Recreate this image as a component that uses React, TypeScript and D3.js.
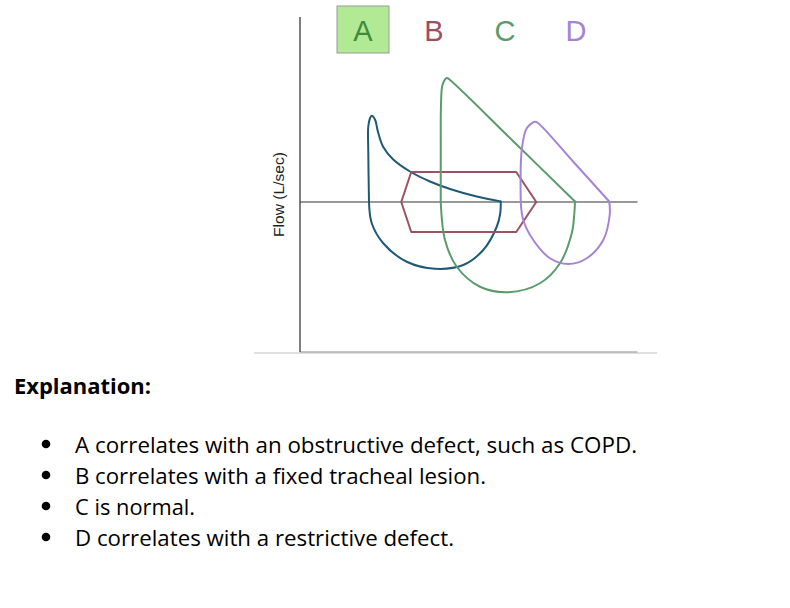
import React from "react";
import * as d3 from "d3";

// flow-volume loops (volume, flow in arbitrary units)
// each loop = expiratory limb (above zero) + inspiratory limb (below zero)
const loopNames = ["A", "B", "C", "D"];
const loopColors = ["#1f5a74", "#9a5264", "#5b9b6b", "#a584d6"];
const letterColors = ["#3d8c3d", "#9a4f62", "#5b9b6b", "#a584d6"];

const volumeAUp = [2.76, 2.73, 2.73, 2.8, 2.87, 3.0, 3.12, 3.33, 3.73, 4.4, 5.2, 6.0, 7.07, 8.03];
const flowAUp = [0, 2.08, 3.01, 3.35, 3.45, 3.3, 2.8, 2.2, 1.7, 1.22, 0.82, 0.52, 0.22, 0.02];
const volumeADown = [8.03, 8.01, 7.87, 7.33, 6.53, 5.4, 4.27, 3.33, 2.87, 2.76];
const flowADown = [0.02, -0.45, -0.99, -1.92, -2.52, -2.67, -2.39, -1.65, -0.85, 0];

const volumeB = [4.05, 4.45, 8.65, 9.45, 8.65, 4.45];
const flowB = [0, 1.2, 1.2, 0, -1.2, -1.2];

const volumeCUp = [5.63, 5.63, 5.64, 5.7, 5.87, 6.0, 8.5, 11.0];
const flowCUp = [0, 2.08, 3.88, 4.68, 4.96, 4.88, 2.46, 0.02];
const volumeCDown = [11.0, 10.97, 10.87, 10.4, 9.6, 8.33, 7.2, 6.27, 5.8, 5.63];
const flowCDown = [0.02, -0.5, -1.25, -2.45, -3.25, -3.61, -3.39, -2.59, -1.52, 0];

const volumeDUp = [8.83, 8.87, 9.07, 9.4, 9.53, 10.95, 12.37];
const flowDUp = [0, 2.08, 2.95, 3.21, 3.15, 1.59, 0.02];
const volumeDDown = [12.37, 12.39, 12.13, 11.47, 10.73, 10.0, 9.33, 8.93, 8.83];
const flowDDown = [0.02, -0.5, -1.52, -2.25, -2.48, -2.25, -1.52, -0.72, 0];

const explanationTitle = "Explanation:";
const explanationItems = [
  "A correlates with an obstructive defect, such as COPD.",
  "B correlates with a fixed tracheal lesion.",
  "C is normal.",
  "D correlates with a restrictive defect.",
];
const itemWidths = [562, 411, 120, 379];

export default function App() {
  const x = d3.scaleLinear().domain([0, 13.5]).range([300, 637.5]);
  const y = d3.scaleLinear().domain([-6, 7.4]).range([352, 17]);
  const letterX = d3.scalePoint<string>().domain(loopNames).range([363, 576]);

  const smooth = d3
    .line<[number, number]>()
    .x((d) => x(d[0]))
    .y((d) => y(d[1]))
    .curve(d3.curveCatmullRom.alpha(0.5));
  const straight = d3
    .line<[number, number]>()
    .x((d) => x(d[0]))
    .y((d) => y(d[1]))
    .curve(d3.curveLinearClosed);

  const zip = (a: number[], b: number[]) => a.map((v, i) => [v, b[i]] as [number, number]);
  const loops = [
    [smooth(zip(volumeAUp, flowAUp)), smooth(zip(volumeADown, flowADown))],
    [straight(zip(volumeB, flowB))],
    [smooth(zip(volumeCUp, flowCUp)), smooth(zip(volumeCDown, flowCDown))],
    [smooth(zip(volumeDUp, flowDUp)), smooth(zip(volumeDDown, flowDDown))],
  ];

  const lineY = d3.scaleLinear().domain([0, 3]).range([452.5, 545.5]);

  return (
    <svg width={790} height={608} style={{ position: "absolute", left: 0, top: 0, background: "#fff" }}>
      {/* axes */}
      <line x1={x(-1.84)} x2={x(14.28)} y1={y(-6) + 1} y2={y(-6) + 1} stroke="#d4d4d4" strokeWidth={1.5} />
      <line x1={x(0)} x2={x(13.5)} y1={y(-6)} y2={y(-6)} stroke="#b0b0b0" strokeWidth={1.5} />
      <line x1={x(0)} x2={x(0)} y1={y(7.4)} y2={y(-6)} stroke="#555" strokeWidth={1.5} />
      <line x1={x(0)} x2={x(13.5)} y1={y(0)} y2={y(0)} stroke="#333" strokeWidth={1.2} />
      <text
        transform={`translate(284, ${y(0.3)}) rotate(-90)`}
        textAnchor="middle"
        fontFamily="Liberation Sans, Arial, sans-serif"
        fontSize={14}
        fill="#222"
        textLength={85}
        lengthAdjust="spacingAndGlyphs"
      >
        Flow (L/sec)
      </text>

      {/* legend letters */}
      <rect x={337} y={6} width={52} height={47} fill="#b2e994" stroke="#9a9a9a" strokeWidth={1} />
      {loopNames.map((n, i) => (
        <text
          key={n}
          x={letterX(n)}
          y={40.5}
          textAnchor="middle"
          fontFamily="Liberation Sans, Arial, sans-serif"
          fontSize={29}
          fill={letterColors[i]}
        >
          {n}
        </text>
      ))}

      {/* loops */}
      {loops.map((parts, i) => (
        <g key={loopNames[i]}>
          {parts.map((d, j) => (
            <path key={j} d={d || ""} fill="none" stroke={loopColors[i]} strokeWidth={2} strokeLinejoin="round" strokeLinecap="round" />
          ))}
        </g>
      ))}

      {/* explanation */}
      <text
        x={14}
        y={394}
        fontFamily="Open Sans, Noto Sans, sans-serif"
        fontWeight="bold"
        fontSize={22}
        fill="#000"
        textLength={137}
        lengthAdjust="spacingAndGlyphs"
      >
        {explanationTitle}
      </text>
      {explanationItems.map((t, i) => (
        <g key={i}>
          <circle cx={46} cy={lineY(i) - 8.5} r={4.3} fill="#000" />
          <text
            x={75}
            y={lineY(i)}
            fontFamily="Open Sans, Noto Sans, sans-serif"
            fontSize={22.5}
            fill="#000"
            textLength={itemWidths[i]}
            lengthAdjust="spacingAndGlyphs"
          >
            {t}
          </text>
        </g>
      ))}
    </svg>
  );
}
